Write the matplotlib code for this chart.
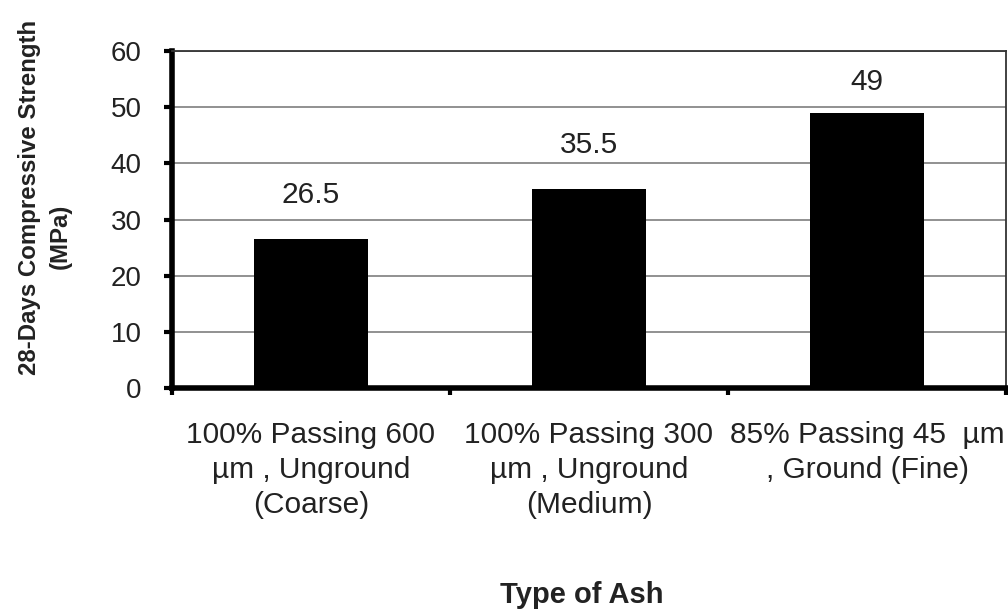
import matplotlib
matplotlib.use("Agg")
import matplotlib.pyplot as plt

plt.rcParams['font.family'] = ['Liberation Sans', 'DejaVu Sans']

# dados
categorias = ["100% Passing 600\nµm , Unground\n(Coarse)",
              "100% Passing 300\nµm , Unground\n(Medium)",
              "85% Passing 45  µm\n, Ground (Fine)"]
resistencia = [26.5, 35.5, 49]
rotulos = ["26.5", "35.5", "49"]
yticks = [0, 10, 20, 30, 40, 50, 60]

fig = plt.figure(figsize=(10.08, 6.1), dpi=100)
ax = fig.add_axes([172/1008, 1 - 388/610, (1006 - 172)/1008, (388 - 51)/610])

x = list(range(len(categorias)))
ax.bar(x, resistencia, width=0.41, color="black", zorder=3)

# rotulos de valor acima das barras (limitados pelo topo do grafico)
for xi, v, r in zip(x, resistencia, rotulos):
    ax.text(xi, min(v + 7.8, 54.5), r, ha="center", va="center",
            fontsize=21.5, color="#222222")

ax.set_xlim(-0.5, 2.5)
ax.set_ylim(0, 60)
ax.set_yticks(yticks)
ax.set_yticklabels([str(t) for t in yticks], fontsize=20, color="#222222")
ax.yaxis.grid(True, color="#888888", linewidth=1.3, zorder=0)

ax.set_xticks(x)
ax.set_xticklabels(categorias, fontsize=21.5, color="#222222", linespacing=1.3)
ax.tick_params(axis="x", which="major", length=0, pad=24)
ax.set_xticks([-0.5, 0.5, 1.5, 2.5], minor=True)
ax.tick_params(axis="x", which="minor", length=5, width=3, direction="out")
ax.tick_params(axis="y", length=6, width=3, direction="out", pad=16)

for lado in ["left", "bottom"]:
    ax.spines[lado].set_linewidth(4)
for lado in ["top", "right"]:
    ax.spines[lado].set_linewidth(1.3)
    ax.spines[lado].set_color("#333333")

fig.text(30/1008, 1 - 197/610, "28-Days Compressive Strength", rotation=90,
         ha="center", va="center", fontsize=17.3, fontweight="bold", color="#222222")
fig.text(60/1008, 1 - 236/610, "(MPa)", rotation=90,
         ha="center", va="center", fontsize=17.3, fontweight="bold", color="#222222")
fig.text(582/1008, 1 - 595/610, "Type of Ash", ha="center", va="center",
         fontsize=21, fontweight="bold", color="#222222")

fig.savefig("out.png", dpi=100)
